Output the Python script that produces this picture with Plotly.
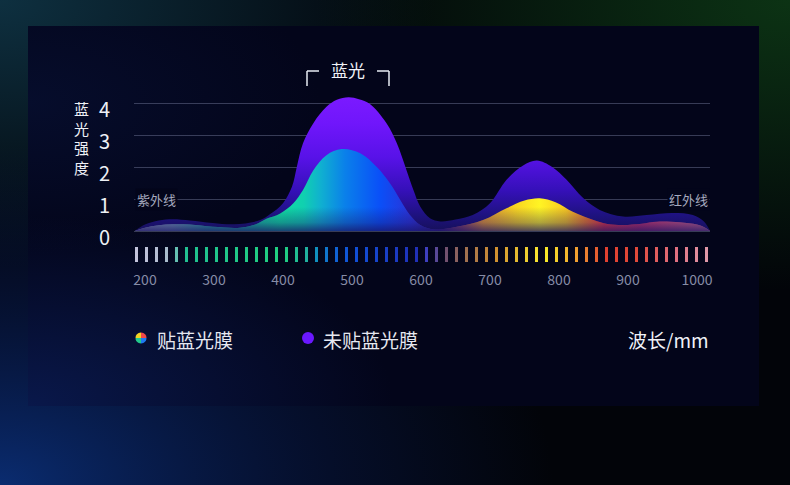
import base64
import numpy as np
import plotly.graph_objects as go

# ---------------- data ----------------
wavelength_film = [185, 200, 220, 240, 265, 298, 338, 360, 376, 396, 415, 429, 444, 463, 485, 512,
                   536, 555, 570, 584, 599, 620, 652, 690, 724, 750, 772, 795, 820, 850, 870, 893,
                   920, 942, 975, 1000, 1009, 1019]
intensity_film = [0.0, 0.1, 0.18, 0.21, 0.2, 0.13, 0.1, 0.2, 0.38, 0.55, 0.87, 1.28, 1.9, 2.37, 2.56, 2.43,
                  2.0, 1.49, 0.97, 0.5, 0.19, 0.05, 0.13, 0.34, 0.71, 0.95, 1.02, 0.9, 0.6, 0.34, 0.22, 0.19,
                  0.23, 0.29, 0.27, 0.2, 0.13, 0.0]

wavelength_nofilm = [185, 200, 220, 240, 265, 298, 330, 367, 381, 400, 413, 420, 429, 444, 463, 478,
                     495, 510, 526, 550, 565, 579, 589, 599, 613, 628, 650, 675, 700, 724, 748, 768,
                     790, 811, 835, 859, 893, 927, 965, 994, 1010, 1019]
intensity_nofilm = [0.0, 0.2, 0.33, 0.37, 0.33, 0.25, 0.21, 0.34, 0.52, 0.87, 1.38, 2.0, 2.74, 3.37, 3.88, 4.1,
                    4.18, 4.12, 3.97, 3.37, 2.74, 1.9, 1.28, 0.76, 0.4, 0.3, 0.36, 0.5, 0.87, 1.6, 2.05, 2.2,
                    2.0, 1.6, 1.03, 0.66, 0.45, 0.5, 0.56, 0.5, 0.3, 0.0]

series_names = ["贴蓝光膜", "未贴蓝光膜"]
x_tick_values = [200, 300, 400, 500, 600, 700, 800, 900, 1000]
y_tick_values = [0, 1, 2, 3, 4]
y_title = "蓝光强度"
x_title = "波长/mm"
band_label = "蓝光"
uv_label = "紫外线"
ir_label = "红外线"

# decorative spectrum stripes along the axis
stripe_wavelengths = list(np.linspace(188, 1014, 58))
stripe_color_stops = [(188, "#c4c4dc"), (230, "#b0bcd0"), (247, "#60c0b0"), (261, "#20c090"),
                      (400, "#20d080"), (435, "#20b0a0"), (449, "#1090c0"), (470, "#1068d4"),
                      (500, "#1050d8"), (594, "#2030b8"), (609, "#4040c0"), (636, "#705070"),
                      (665, "#a07050"), (709, "#d09030"), (767, "#f8e030"), (781, "#f8e828"),
                      (825, "#f0a030"), (868, "#e04030"), (911, "#e04838"), (970, "#e07080"),
                      (1014, "#e098a8")]

film_fill_stops = [(185, "#8c8cb0"), (240, "#7aa0b8"), (290, "#30b0a0"), (360, "#18c8a0"),
                   (396, "#10e0a0"), (430, "#10d0b0"), (455, "#10b0d0"), (490, "#0a80ea"),
                   (540, "#0a50f8"), (585, "#2a34d8"), (627, "#3a2090"), (660, "#a05060"),
                   (690, "#e89a30"), (740, "#fad820"), (772, "#fff424"), (810, "#f8c820"),
                   (840, "#f07828"), (865, "#f03840"), (920, "#c83468"), (1019, "#c87090")]


def hex_rgb(h):
    h = h.lstrip("#")
    return tuple(int(h[i:i + 2], 16) for i in (0, 2, 4))


def interp_color(stops, w):
    ws = [s[0] for s in stops]
    cs = [hex_rgb(s[1]) for s in stops]
    r = [float(np.interp(w, ws, [c[k] for c in cs])) for k in range(3)]
    return "rgb(%d,%d,%d)" % tuple(round(v) for v in r)


def to_scale(stops):
    lo, hi = stops[0][0], stops[-1][0]
    return [[(w - lo) / (hi - lo), c] for w, c in stops]


stripe_colors = [interp_color(stripe_color_stops, w) for w in stripe_wavelengths]

# ---------------- geometry helpers ----------------
L, R, T, B = 134, 710, 60, 266
W, H = R - L, B - T
X0, X1 = 200 + (L - 145) / 0.69, 200 + (R - 145) / 0.69
Y_TOP, Y_BOT = (231 - T) / 32, -(B - 231) / 32


def px(x):
    return (x - L) / W


def py(y):
    return (B - y) / H


FONT = "Noto Sans CJK SC, Noto Sans, sans-serif"

# ---------------- background (SVG) ----------------
svg = """<svg xmlns='http://www.w3.org/2000/svg' width='790' height='485' viewBox='0 0 790 485'>
<defs>
<radialGradient id='tl' cx='0' cy='0' r='0.55'><stop offset='0' stop-color='#0e3040' stop-opacity='1'/><stop offset='1' stop-color='#0e3040' stop-opacity='0'/></radialGradient>
<radialGradient id='tr' cx='1' cy='0' r='0.6'><stop offset='0' stop-color='#0c3314' stop-opacity='1'/><stop offset='1' stop-color='#0c3314' stop-opacity='0'/></radialGradient>
<radialGradient id='bl' cx='0' cy='1' r='0.7'><stop offset='0' stop-color='#0a2c70' stop-opacity='1'/><stop offset='0.6' stop-color='#08184a' stop-opacity='0.5'/><stop offset='1' stop-color='#08184a' stop-opacity='0'/></radialGradient>
<radialGradient id='pg' cx='0' cy='1' r='0.5'><stop offset='0' stop-color='#0a1a50' stop-opacity='0.9'/><stop offset='1' stop-color='#0a1a50' stop-opacity='0'/></radialGradient>
<radialGradient id='pg2' cx='0' cy='0.2' r='0.4'><stop offset='0' stop-color='#081238' stop-opacity='0.6'/><stop offset='1' stop-color='#081238' stop-opacity='0'/></radialGradient>
</defs>
<rect width='790' height='485' fill='#020409'/>
<rect width='790' height='485' fill='url(#tl)'/>
<rect width='790' height='485' fill='url(#tr)'/>
<rect width='790' height='485' fill='url(#bl)'/>
<rect x='28' y='26' width='731' height='380' fill='#03051a'/>
<rect x='28' y='26' width='731' height='380' fill='url(#pg)'/>
<rect x='28' y='26' width='731' height='380' fill='url(#pg2)'/>
</svg>"""
svg_uri = "data:image/svg+xml;base64," + base64.b64encode(svg.encode()).decode()

# ---------------- figure ----------------
fig = go.Figure()
SMOOTH = 1.0

fig.add_trace(go.Scatter(
    x=wavelength_nofilm, y=intensity_nofilm, name=series_names[1],
    mode="lines", line=dict(width=0, shape="spline", smoothing=SMOOTH),
    fill="tozeroy",
    fillgradient=dict(type="vertical", start=0, stop=4.2,
                      colorscale=[[0, "#16105a"], [0.12, "#1e1280"], [0.3, "#3510b8"],
                                  [0.55, "#5812e8"], [0.8, "#7016fb"], [1, "#7b1aff"]]),
    hoverinfo="skip", showlegend=False))

fig.add_trace(go.Scatter(
    x=wavelength_film, y=intensity_film, name=series_names[0],
    mode="lines", line=dict(width=0, shape="spline", smoothing=SMOOTH),
    fill="tozeroy",
    fillgradient=dict(type="horizontal", start=185, stop=1019,
                      colorscale=to_scale(film_fill_stops)),
    hoverinfo="skip", showlegend=False))

# darkening toward the base of the filtered spectrum
fig.add_trace(go.Scatter(
    x=wavelength_film, y=intensity_film, name=series_names[0] + " ",
    mode="lines", line=dict(width=0, shape="spline", smoothing=SMOOTH),
    fill="tozeroy",
    fillgradient=dict(type="vertical", start=0, stop=0.75,
                      colorscale=[[0, "rgba(25,18,100,0.75)"], [0.35, "rgba(25,18,100,0.35)"],
                                  [1, "rgba(25,18,100,0)"]]),
    hoverinfo="skip", showlegend=False))

fig.add_trace(go.Bar(
    x=stripe_wavelengths, y=[0.47] * len(stripe_wavelengths), base=-0.97,
    width=4.3, marker=dict(color=stripe_colors, line=dict(width=0)),
    hoverinfo="skip", showlegend=False))

txt = "#eef0f6"
annotations = [
    dict(x=px(81), y=py(138), xref="paper", yref="paper", text="<br>".join(y_title),
         showarrow=False, xanchor="center", yanchor="middle", align="center", borderpad=0,
         font=dict(family=FONT, size=15, color=txt)),
    dict(x=px(156), y=1, xref="paper", yref="y", text=uv_label, showarrow=False,
         xanchor="center", yanchor="middle",
         font=dict(family=FONT, size=13, color="#a6aabf"), bgcolor="#03051a", borderpad=1),
    dict(x=px(688), y=1, xref="paper", yref="y", text=ir_label, showarrow=False,
         xanchor="center", yanchor="middle",
         font=dict(family=FONT, size=13, color="#a6aabf"), bgcolor="#03051a", borderpad=1),
    dict(x=px(348), y=py(69), xref="paper", yref="paper", text=band_label, showarrow=False,
         xanchor="center", yanchor="middle", font=dict(family=FONT, size=17, color="#f0f2f8")),
    dict(x=px(155), y=py(339), xref="paper", yref="paper", text=series_names[0], showarrow=False,
         xanchor="left", yanchor="middle", font=dict(family=FONT, size=19, color="#e6e8f0")),
    dict(x=px(321), y=py(339), xref="paper", yref="paper", text=series_names[1], showarrow=False,
         xanchor="left", yanchor="middle", font=dict(family=FONT, size=19, color="#e6e8f0")),
    dict(x=px(711), y=py(339), xref="paper", yref="paper", text=x_title, showarrow=False,
         xanchor="right", yanchor="middle", font=dict(family=FONT, size=19, color="#f0f2f8")),
]

line_style = dict(color="#e8ecf4", width=1.5)
shapes = [
    dict(type="line", xref="paper", yref="paper", x0=px(307), x1=px(319), y0=py(71), y1=py(71), line=line_style),
    dict(type="line", xref="paper", yref="paper", x0=px(307), x1=px(307), y0=py(71), y1=py(86), line=line_style),
    dict(type="line", xref="paper", yref="paper", x0=px(377), x1=px(389), y0=py(71), y1=py(71), line=line_style),
    dict(type="line", xref="paper", yref="paper", x0=px(389), x1=px(389), y0=py(71), y1=py(86), line=line_style),
    dict(type="circle", xref="paper", yref="paper", xsizemode="pixel", ysizemode="pixel",
         xanchor=px(308), yanchor=py(338), x0=-6, x1=6, y0=-6, y1=6,
         fillcolor="#6a18ff", line=dict(width=0)),
]
# multicolour legend dot
r = 5.5
wedges = [("#f2d224", 90, 180), ("#22c98c", 180, 270), ("#1e7af0", 270, 360), ("#f04848", 0, 90)]
for col, a0, a1 in wedges:
    pts = ["M 0,0"]
    for a in np.linspace(np.radians(a0), np.radians(a1), 8):
        pts.append("L %.2f,%.2f" % (r * np.cos(a), r * np.sin(a)))
    pts.append("Z")
    shapes.append(dict(type="path", xref="paper", yref="paper", xsizemode="pixel", ysizemode="pixel",
                       xanchor=px(141), yanchor=py(338), path=" ".join(pts),
                       fillcolor=col, line=dict(width=0)))

fig.update_layout(
    width=790, height=485,
    margin=dict(l=L, r=790 - R, t=T, b=485 - B),
    paper_bgcolor="#020409", plot_bgcolor="rgba(0,0,0,0)",
    barmode="overlay", bargap=0,
    font=dict(family=FONT),
    xaxis=dict(range=[X0, X1], tickvals=x_tick_values, ticks="", showgrid=False, zeroline=False,
               showline=False, tickfont=dict(family=FONT, size=14, color="#868ca6"),
               ticklabelstandoff=4, fixedrange=True),
    yaxis=dict(range=[Y_BOT, Y_TOP], tickvals=y_tick_values, ticks="", showgrid=True,
               gridcolor="rgba(120,126,160,0.45)", gridwidth=1, zeroline=False, showline=False,
               tickfont=dict(family=FONT, size=20, color=txt),
               ticklabelstandoff=23, ticklabelshift=7, fixedrange=True),
    annotations=annotations,
    shapes=shapes,
    images=[dict(source=svg_uri, xref="paper", yref="paper", x=px(0), y=py(0),
                 sizex=790 / W, sizey=485 / H, sizing="stretch", xanchor="left", yanchor="top",
                 layer="below")],
    showlegend=False,
)

fig.write_html("out.html", config={"displayModeBar": False},
               post_script="document.body.style.margin='0px';document.body.style.padding='0px';"
                           "document.body.style.background='#020409';")
